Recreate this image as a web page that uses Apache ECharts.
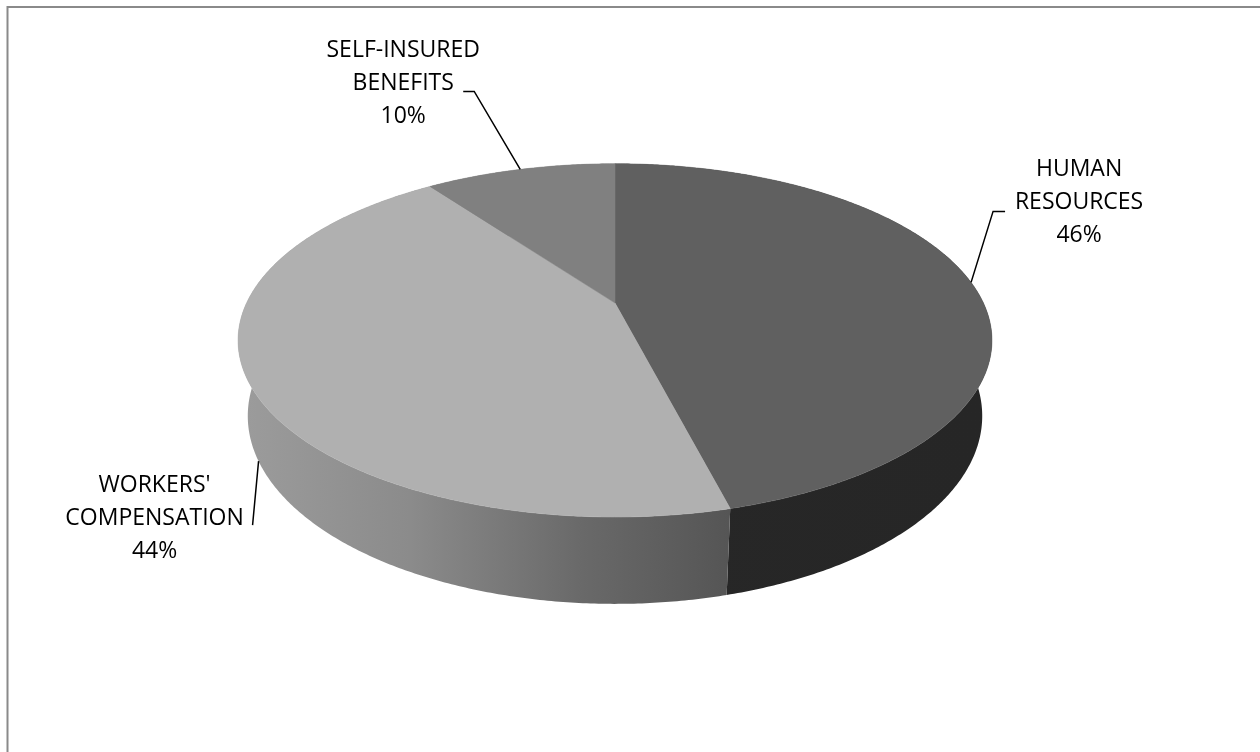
<!DOCTYPE html>
<html>
<head>
<meta charset="utf-8">
<script src="https://cdn.jsdelivr.net/npm/echarts@6/dist/echarts.min.js"></script>
<style>
  html, body { margin: 0; padding: 0; background: #ffffff; }
  #chart { width: 1260px; height: 752px; }
</style>
</head>
<body>
<div id="chart"></div>
<script>
// Budget share by program, in percent, drawn clockwise from 12 o'clock
const categories = ['HUMAN RESOURCES', "WORKERS' COMPENSATION", 'SELF-INSURED BENEFITS'];
const labelLines = [['HUMAN', 'RESOURCES'], ["WORKERS'", 'COMPENSATION'], ['SELF-INSURED', 'BENEFITS']];
const shares = [46, 44, 10];

// Face colours: flat top, shaded wall (gradient stops left -> right)
const topColors = ['#606060', '#b0b0b0', '#808080'];
const wallColors = [
  [[0, '#272727'], [1, '#262626']],
  [[0, '#9c9c9c'], [0.35, '#8b8b8b'], [0.7, '#696969'], [1, '#555555']],
  [[0, '#6a6a6a'], [1, '#6a6a6a']]
];

// Perspective view of the disc
const view = {
  cx: 615, cy: 303,      // screen position of the disc centre
  focal: 1548,           // projection scale
  radius: 0.238,         // disc radius relative to camera distance
  tilt: 27.26 * Math.PI / 180,
  thickness: 0.0553      // wall height relative to camera distance
};

// Label placement around each slice: anchor on the rim, text offset, leader bend points
const labelLayout = [
  { rim: 'top',    text: [108, -80],  leader: [[22, -71], [34, -71]] },
  { rim: 'bottom', text: [-104, 57],  leader: [[-6, 64]] },
  { rim: 'top',    text: [-117, -86], leader: [[-46, -78], [-57, -78]] }
];

const total = shares.reduce((a, b) => a + b, 0);
const starts = [];
shares.reduce((acc, v, i) => { starts[i] = acc; return acc + v; }, 0);

function project(angle, lower) {
  const s = Math.sin(view.tilt), c = Math.cos(view.tilt);
  const R = view.radius, h = lower ? view.thickness : 0;
  const X = R * Math.sin(angle);
  const Y = R * Math.cos(angle) * s - h * c;
  const Z = 1 + R * Math.cos(angle) * c + h * s;
  return [view.cx + view.focal * X / Z, view.cy - view.focal * Y / Z];
}

function arcPoints(a0, a1, lower) {
  const pts = [];
  const n = Math.max(2, Math.ceil((a1 - a0) / (Math.PI / 360)));
  for (let k = 0; k <= n; k++) pts.push(project(a0 + (a1 - a0) * k / n, lower));
  return pts;
}

function gradient(stops) {
  return new echarts.graphic.LinearGradient(0, 0, 1, 0,
    stops.map(([offset, color]) => ({ offset, color })));
}

function renderItem(params, api) {
  const i = params.dataIndex;
  const value = api.value(0);
  const a0 = starts[i] / total * 2 * Math.PI;
  const a1 = (starts[i] + value) / total * 2 * Math.PI;
  const children = [];

  // Outer wall of the slice; the parts facing away sit behind the top faces
  const upper = arcPoints(a0, a1, false);
  const lowerPts = arcPoints(a0, a1, true).reverse();
  children.push({
    type: 'polygon', z2: 1,
    shape: { points: upper.concat(lowerPts) },
    style: { fill: gradient(wallColors[i]), stroke: null }
  });

  // Top face
  children.push({
    type: 'polygon', z2: 10,
    shape: { points: [[view.cx, view.cy]].concat(upper) },
    style: { fill: topColors[i], stroke: topColors[i], lineWidth: 0.5 }
  });

  // Leader line and label
  const lay = labelLayout[i];
  const mid = (a0 + a1) / 2;
  const anchor = project(mid, lay.rim === 'bottom');
  const leaderPts = [anchor].concat(lay.leader.map(([dx, dy]) => [anchor[0] + dx, anchor[1] + dy]));
  children.push({
    type: 'polyline', z2: 20,
    shape: { points: leaderPts },
    style: { stroke: '#000000', lineWidth: 1.5, fill: null }
  });
  const pct = Math.round(value / total * 100) + '%';
  children.push({
    type: 'text', z2: 21,
    x: anchor[0] + lay.text[0],
    y: anchor[1] + lay.text[1],
    style: {
      text: labelLines[i].concat(pct).join('\n'),
      fill: '#000000',
      fontSize: 23,
      fontFamily: '"Open Sans", Lato, sans-serif',
      lineHeight: 33,
      align: 'center',
      verticalAlign: 'middle'
    }
  });

  return { type: 'group', children };
}

const chart = echarts.init(document.getElementById('chart'), null, { renderer: 'canvas' });
chart.setOption({
  backgroundColor: '#ffffff',
  animation: false,
  graphic: [{
    type: 'rect', z: -10,
    shape: { x: 7.5, y: 7, width: 1400, height: 900 },
    style: { fill: null, stroke: '#8a8a8a', lineWidth: 2 }
  }],
  series: [{
    type: 'custom',
    coordinateSystem: 'none',
    renderItem,
    data: shares.map((v, i) => ({ name: categories[i], value: [v] }))
  }]
});
</script>
</body>
</html>
